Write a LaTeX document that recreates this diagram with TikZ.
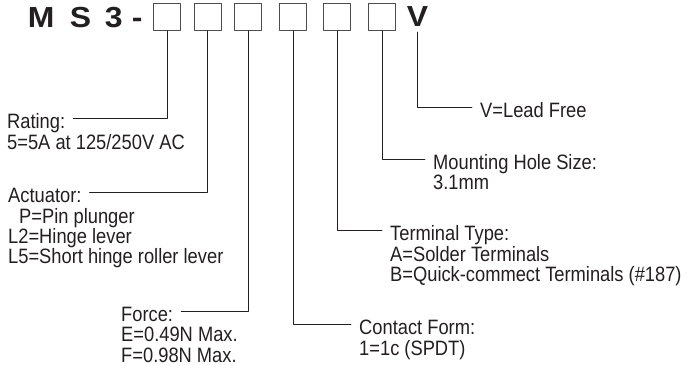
\documentclass[tikz,border=0pt]{standalone}
\usepackage{fontspec}
\setmainfont{Liberation Sans}[FakeStretch=0.88]
\newfontfamily\codefont{Liberation Sans}[FakeStretch=1.1]
\usetikzlibrary{positioning}
\definecolor{ink}{RGB}{35,31,32}
\newcommand{\lblsize}{\fontsize{20.8}{20.2}\selectfont}
\newcommand{\codesize}{\codefont\fontsize{29}{31}\selectfont\bfseries}

\begin{document}
\begin{tikzpicture}[x=1pt,y=-1pt,line cap=round,line join=round,
  slot/.style={draw=ink!80,line width=0.9pt,minimum size=27pt,inner sep=0pt},
  head/.style={font=\lblsize,text=ink,inner sep=0pt,text height=26.06pt,text depth=6.06pt,anchor=west},
  detail/.style={font=\lblsize,text=ink,inner sep=0pt,align=left,anchor=north west,execute at begin node=\strut},
  lead/.style={draw=ink,line width=0.9pt,shorten >=8pt}]
  \useasboundingbox (0,0) rectangle (687,364);

  % part number
  \node[font=\codesize,text=ink,inner sep=0pt,anchor=base west] (code) at (27.7,27)
    {M\hspace{15.3pt}S\hspace{13.8pt}3\hspace{9.4pt}-};
  \foreach \i/\x in {1/167,2/207.5,3/248,4/293,5/337,6/382}
    \node[slot] (b\i) at (\x,17) {};
  \node[font=\codesize,text=ink,inner sep=0pt,text depth=6pt,anchor=base] (vmark) at (417.5,26) {V};

  % labels
  \node[head] (rating) at (7,118) {Rating:};
  \node[detail] (ratingx) at (rating.south west) {5=5A at 125/250V AC};
  \node[head] (actuator) at (8,192) {Actuator:};
  \node[detail] (actuatorx) at (actuator.south west)
    {\hspace*{11pt}P=Pin plunger\\L2=Hinge lever\\L5=Short hinge roller lever};
  \node[head] (force) at (121,311) {Force:};
  \node[detail] (forcex) at (force.south west) {E=0.49N Max.\\F=0.98N Max.};
  \node[head] (contact) at (359,324) {Contact Form:};
  \node[detail] (contactx) at (contact.south west) {1=1c (SPDT)};
  \node[head] (terminal) at (390,230) {Terminal Type:};
  \node[detail] (terminalx) at (terminal.south west)
    {A=Solder Terminals\\B=Quick-commect Terminals (\#187)};
  \node[head] (mounting) at (433,159) {Mounting Hole Size:};
  \node[detail] (mountingx) at (mounting.south west) {3.1mm};
  \node[head] (leadfree) at (480,107) {V=Lead Free};

  % leaders
  \draw[lead] (b1.south) |- (rating.east);
  \draw[lead] (b2.south) |- (actuator.east);
  \draw[lead] (b3.south) |- (force.east);
  \draw[lead] (b4.south) |- (contact.west);
  \draw[lead] (b5.south) |- (terminal.west);
  \draw[lead] (b6.south) |- (mounting.west);
  \draw[lead] (vmark.south) |- (leadfree.west);
\end{tikzpicture}
\end{document}
